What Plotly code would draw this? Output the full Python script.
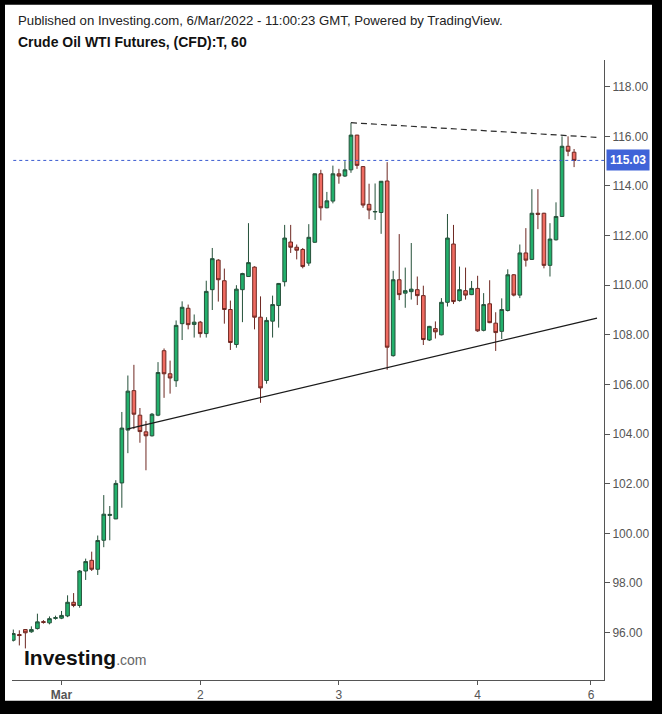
import plotly.graph_objects as go

# ---- data (hourly candles) ----
opens = [95.69, 95.92, 96.12, 96.03, 96.16, 96.44, 96.39, 96.57, 96.58, 96.67,
         97.22, 97.09, 98.48, 98.91, 98.55, 99.72, 100.72, 100.58, 102.03, 104.16,
         105.75, 104.76, 104.09, 103.93, 104.76, 107.36, 106.43, 106.15, 108.45, 109.07,
         108.42, 108.51, 108.05, 109.82, 111.01, 110.18, 109.02, 107.61, 109.82, 110.35,
         110.73, 108.71, 106.16, 108.55, 109.18, 110.14, 111.74, 111.53, 111.44, 110.89,
         111.73, 114.49, 113.12, 113.39, 114.49, 114.40, 114.65, 116.05, 114.78, 113.26,
         112.95, 112.93, 114.20, 107.16, 110.22, 109.68, 109.74, 109.82, 109.58, 107.79,
         108.25, 108.00, 109.31, 111.66, 109.38, 109.78, 109.62, 109.87, 108.18, 109.25,
         108.47, 108.14, 108.98, 110.42, 109.60, 111.30, 111.04, 112.90, 112.90, 110.80,
         111.83, 112.77, 115.60, 115.36]
highs = [96.12, 96.09, 96.14, 96.25, 96.76, 96.50, 96.65, 96.68, 96.87, 97.50,
         97.59, 98.52, 98.98, 99.26, 99.91, 101.54, 101.10, 102.14, 104.89, 106.36,
         106.79, 105.05, 104.53, 104.85, 106.90, 107.45, 106.96, 108.58, 109.35, 109.22,
         108.82, 108.56, 110.18, 111.50, 111.05, 110.67, 109.38, 110.00, 110.50, 112.50,
         110.76, 109.55, 108.71, 109.58, 110.09, 112.43, 112.43, 111.64, 111.50, 112.46,
         114.50, 114.65, 113.76, 114.82, 114.69, 115.00, 116.55, 116.06, 114.80, 114.09,
         114.10, 114.20, 114.96, 110.58, 112.06, 110.71, 111.70, 110.35, 109.98, 108.36,
         108.54, 109.48, 112.87, 112.43, 110.75, 110.71, 110.17, 110.38, 109.68, 110.20,
         108.91, 109.47, 110.64, 110.45, 111.64, 112.30, 113.87, 113.87, 112.92, 112.50,
         113.34, 116.00, 116.00, 115.49]
lows = [95.64, 95.48, 95.36, 95.99, 96.12, 96.36, 96.33, 96.52, 96.54, 96.62,
        97.02, 97.00, 98.12, 98.48, 98.32, 99.44, 99.72, 100.57, 101.03, 103.23,
        104.20, 103.65, 102.54, 103.90, 104.72, 105.46, 105.63, 105.90, 107.79, 108.22,
        107.89, 107.89, 107.89, 109.00, 109.34, 108.45, 107.39, 107.48, 108.51, 110.33,
        108.22, 105.26, 106.03, 107.89, 108.29, 109.95, 111.30, 111.04, 110.68, 110.78,
        111.70, 112.61, 113.10, 113.30, 114.09, 114.36, 114.53, 114.69, 113.12, 112.66,
        112.63, 112.07, 106.59, 107.12, 109.40, 109.09, 109.42, 109.20, 107.59, 107.75,
        107.85, 107.98, 109.14, 109.24, 109.34, 109.42, 109.60, 108.12, 108.14, 108.47,
        107.35, 107.83, 108.94, 109.55, 109.48, 110.75, 111.02, 112.26, 110.68, 110.35,
        111.80, 112.75, 115.20, 114.76]
closes = [95.96, 95.88, 95.99, 96.12, 96.43, 96.41, 96.56, 96.60, 96.69, 97.22,
          97.09, 98.48, 98.86, 98.55, 99.71, 100.77, 100.76, 102.01, 104.24, 105.73,
          104.80, 104.10, 103.93, 104.80, 106.48, 106.43, 106.26, 108.38, 109.11, 108.41,
          108.51, 108.05, 109.75, 111.07, 110.22, 109.02, 107.69, 109.84, 110.47, 110.91,
          108.71, 105.86, 108.58, 109.22, 110.07, 111.90, 111.53, 111.41, 110.75, 111.93,
          114.49, 113.12, 113.40, 114.49, 114.40, 114.65, 116.05, 114.83, 113.23, 113.03,
          112.97, 114.19, 107.50, 110.22, 109.62, 109.78, 109.84, 109.58, 107.81, 108.34,
          108.12, 109.31, 111.90, 109.34, 109.82, 109.60, 109.87, 108.16, 109.22, 108.49,
          108.09, 109.02, 110.42, 109.60, 111.30, 111.01, 112.90, 112.86, 110.80, 111.86,
          112.77, 115.60, 115.40, 115.03]

day_tick_pos = [8, 31, 54, 77, 95.8]
day_tick_text = ["<b>Mar</b>", "2", "3", "4", "6"]
price_ticks = [96, 98, 100, 102, 104, 106, 108, 110, 112, 114, 116, 118]
last_price = 115.03

support_x = [18.85, 96.8]
support_y = [104.2, 108.67]
resist_x = [56, 96.7]
resist_y = [116.55, 115.96]

x_idx = list(range(len(opens)))

# ---- layout geometry (pixels) ----
W, H = 662, 714
L, R, T, B = 12, 58, 60, 27
PW, PH = W - L - R, H - T - B


def px(xp):
    return (xp - L) / PW


def py(yp):
    return (H - B - yp) / PH


FONT = "Liberation Sans, Arial, sans-serif"

fig = go.Figure()
fig.add_trace(go.Candlestick(
    x=x_idx, open=opens, high=highs, low=lows, close=closes,
    increasing=dict(fillcolor="#22b06c", line=dict(color="#25513a", width=1)),
    decreasing=dict(fillcolor="#ef6b61", line=dict(color="#6e2822", width=1)),
    whiskerwidth=0, hoverinfo="skip", showlegend=False,
))

# last-price dotted line
fig.add_trace(go.Scatter(x=[-1, 99], y=[last_price, last_price], mode="lines",
                         line=dict(color="#3a5bd0", width=1, dash="dot"),
                         hoverinfo="skip", showlegend=False))
# trend lines
fig.add_trace(go.Scatter(x=support_x, y=support_y, mode="lines",
                         line=dict(color="#1a1a1a", width=1.2),
                         hoverinfo="skip", showlegend=False))
fig.add_trace(go.Scatter(x=resist_x, y=resist_y, mode="lines",
                         line=dict(color="#2a2a2a", width=1.2, dash="6px,4px"),
                         hoverinfo="skip", showlegend=False))

shapes = [dict(type="rect", xref="paper", yref="paper", layer="below",
               x0=px(5), x1=px(652), y0=py(708), y1=py(4),
               fillcolor="white", line=dict(width=0))]

annotations = [
    dict(text="Published on Investing.com, 6/Mar/2022 - 11:00:23 GMT, Powered by TradingView.",
         xref="paper", yref="paper", x=px(16), y=py(20), xanchor="left", yanchor="middle",
         showarrow=False, font=dict(family=FONT, size=13.2, color="#222222")),
    dict(text="<b>Crude Oil WTI Futures, (CFD):T, 60</b>",
         xref="paper", yref="paper", x=px(16), y=py(42), xanchor="left", yanchor="middle",
         showarrow=False, font=dict(family=FONT, size=14, color="#111111")),
    dict(text="<b>%.2f</b>" % last_price, xref="paper", yref="y", x=1.0, y=last_price,
         xanchor="left", yanchor="middle", xshift=2, showarrow=False,
         bgcolor="#3f63d8", borderpad=3,
         font=dict(family=FONT, size=12, color="white")),
    dict(text="<b>Investing</b><span style='font-size:14px;color:#666666'>.com</span>",
         xref="paper", yref="paper", x=px(22), y=py(664),
         xanchor="left", yanchor="middle", showarrow=False,
         font=dict(family=FONT, size=21, color="#111111")),
]

fig.update_layout(
    width=W, height=H,
    margin=dict(l=L, r=R, t=T, b=B, pad=0),
    paper_bgcolor="black", plot_bgcolor="white",
    shapes=shapes, annotations=annotations,
    hovermode=False, boxgap=0.14,
    xaxis=dict(range=[-0.216, 97.96], rangeslider=dict(visible=False),
               showgrid=False, zeroline=False, showline=True, linecolor="#555555",
               linewidth=1, ticks="outside", ticklen=4, tickcolor="#555555",
               tickmode="array", tickvals=day_tick_pos, ticktext=day_tick_text,
               tickfont=dict(family=FONT, size=12, color="#555555")),
    yaxis=dict(range=[94.087, 119.077], side="right",
               showgrid=False, zeroline=False, showline=True, linecolor="#555555",
               linewidth=1, ticks="outside", ticklen=5, tickcolor="#555555",
               tickmode="array", tickvals=price_ticks,
               ticktext=["%.2f" % v for v in price_ticks],
               tickfont=dict(family=FONT, size=12, color="#555555")),
)

fig.write_html("out.html", config={"displayModeBar": False},
               post_script="document.body.style.margin='0';document.body.style.background='black';")
